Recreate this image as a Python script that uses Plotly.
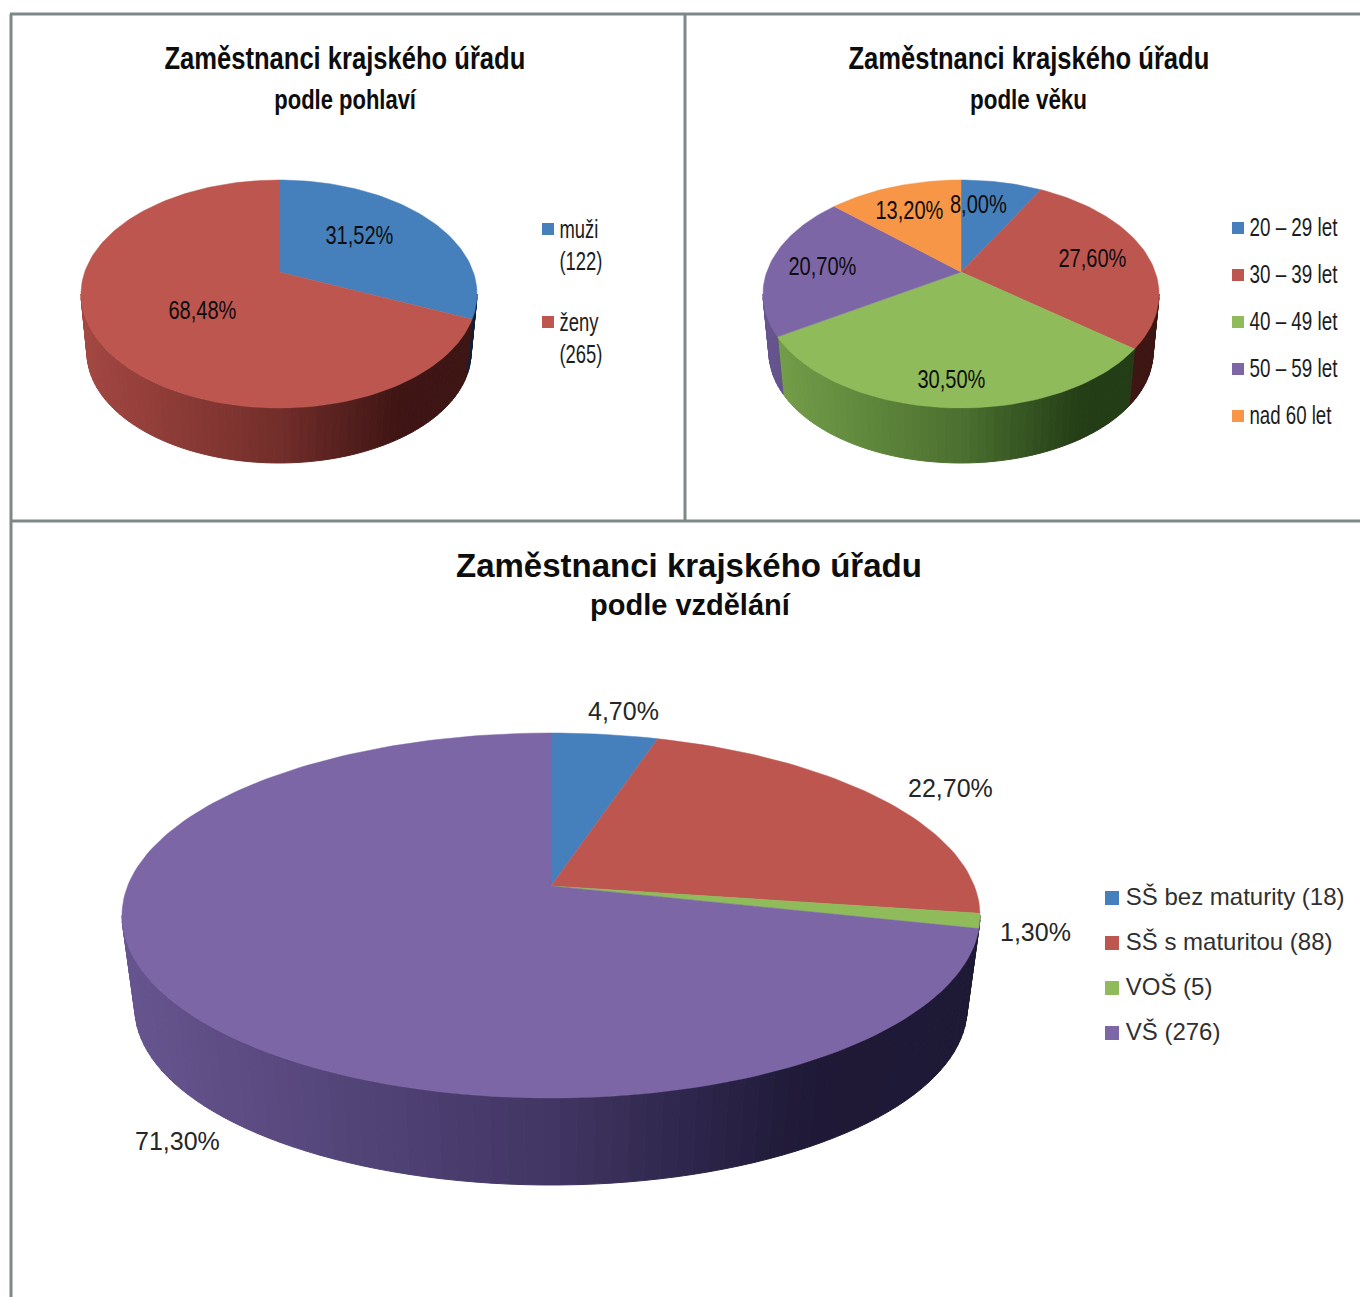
import json
import math
import plotly.graph_objects as go

# ---------- data ----------
gender_labels = ["muži<br>(122)", "ženy<br>(265)"]
gender_values = [31.52, 68.48]
age_labels = ["20 – 29 let", "30 – 39 let", "40 – 49 let", "50 – 59 let", "nad 60 let"]
age_values = [8.00, 27.60, 30.50, 20.70, 13.20]
edu_labels = ["SŠ bez maturity (18)", "SŠ s maturitou (88)", "VOŠ (5)", "VŠ (276)"]
edu_values = [4.70, 22.70, 1.30, 71.30]
title_main = "Zaměstnanci krajského úřadu"
subtitles = ["podle pohlaví", "podle věku", "podle vzdělání"]
colors = ["#4680BC", "#BE5650", "#8FBB5A", "#7C66A6", "#F79646"]

W, H = 1360, 1297
FONT = "Liberation Sans"


def rgb(c):
    return [int(c[i:i + 2], 16) for i in (1, 3, 5)]


def shade(c, t):
    # side wall darkens from left (t=0) to right (t=1)
    stops = [(0, .86), (.5, .60), (.8, .33), (1, .32)]
    f = stops[-1][1]
    for (a, fa), (b, fb) in zip(stops, stops[1:]):
        if t <= b:
            f = fa + (fb - fa) * (t - a) / (b - a)
            break
    base = rgb(c)
    top = max(base)
    r = [round(v * (f if v == top else f ** 1.25)) for v in base]
    return f"rgb({r[0]},{r[1]},{r[2]})"


def add_pie(fig, idx, values, apex, rx, top, bottom, floor, s=.97):
    """Perspective disc: clockwise angle from 12 o'clock -> projected point."""
    cx, cy = apex
    k = (bottom / top - 1) / (bottom / top + 1)
    b = top * (1 + k)
    a = rx * math.sqrt(1 - k * k)
    dy = floor - s * bottom
    xa, ya = f"x{idx}", f"y{idx}"

    def P(deg):
        p = math.radians(deg)
        d = 1 + k * math.cos(p)
        return a * math.sin(p) / d, b * math.cos(p) / d

    def Q(deg):
        x, y = P(deg)
        return s * x, s * y - dy

    m = rx * 1.1
    yt, yb = top * 1.1, floor * 1.1
    fig.update_layout({
        f"xaxis{idx}": dict(domain=[(cx - m) / W, (cx + m) / W], range=[-m, m], visible=False, fixedrange=True),
        f"yaxis{idx}": dict(domain=[1 - (cy + yb) / H, 1 - (cy - yt) / H], range=[-yb, yt], visible=False, fixedrange=True),
    })

    total = sum(values)
    edges = [0]
    for v in values:
        edges.append(edges[-1] + 360 * v / total)
    lo = math.degrees(math.acos(-k))
    hi = 360 - lo
    # side wall: strips clipped to each slice
    for i, v in enumerate(values):
        a0, a1 = max(edges[i], lo), min(edges[i + 1], hi)
        if a1 <= a0:
            continue
        n = max(1, math.ceil((a1 - a0) / 2.0))
        for j in range(n):
            d0 = a0 + (a1 - a0) * j / n
            d1 = a0 + (a1 - a0) * (j + 1) / n
            top0, top1, bot0, bot1 = P(d0), P(d1), Q(d0), Q(d1)
            t = ((top0[0] + top1[0]) / 2 + rx) / (2 * rx)
            col = shade(colors[i], t)
            xs = [top0[0], top1[0], bot1[0], bot0[0], top0[0]]
            ys = [top0[1], top1[1], bot1[1], bot0[1], top0[1]]
            fig.add_trace(go.Scatter(x=xs, y=ys, xaxis=xa, yaxis=ya, mode="lines", fill="toself",
                                     fillcolor=col, line=dict(color=col, width=1),
                                     hoverinfo="skip", showlegend=False))
    # top face
    for i, v in enumerate(values):
        n = max(2, math.ceil((edges[i + 1] - edges[i]) / 1.5))
        pts = [P(edges[i] + (edges[i + 1] - edges[i]) * j / n) for j in range(n + 1)]
        xs = [0] + [p[0] for p in pts] + [0]
        ys = [0] + [p[1] for p in pts] + [0]
        fig.add_trace(go.Scatter(x=xs, y=ys, xaxis=xa, yaxis=ya, mode="lines", fill="toself",
                                 fillcolor=colors[i], line=dict(color=colors[i], width=0.5),
                                 hoverinfo="skip", showlegend=False))


fig = go.Figure()
add_pie(fig, 1, gender_values, (279, 272), 198, 92, 136, 191)
add_pie(fig, 2, age_values, (961, 272), 198, 92, 136, 191)
add_pie(fig, 3, edu_values, (551, 886), 429, 153, 212, 299)

# overlay axes in page pixels, for the legends and texts
fig.update_layout(
    xaxis4=dict(domain=[0, 1], range=[0, W], visible=False, fixedrange=True),
    yaxis4=dict(domain=[0, 1], range=[H, 0], visible=False, fixedrange=True),
)


def legend(labels, x, marker_ys, text_ys, size, textcolor, msize):
    fig.add_trace(go.Scatter(
        x=[x] * len(labels), y=marker_ys, xaxis="x4", yaxis="y4", mode="markers",
        marker=dict(symbol="square", size=msize, color=colors[:len(labels)]),
        hoverinfo="skip", showlegend=False))
    fig.add_trace(go.Scatter(
        x=[x] * len(labels), y=text_ys, xaxis="x4", yaxis="y4", mode="markers+text",
        marker=dict(symbol="square", size=msize, opacity=0),
        text=labels, textposition="middle right",
        textfont=dict(family=FONT, size=size, color=textcolor),
        hoverinfo="skip", showlegend=False))


legend(gender_labels, 548, [229, 322], [248, 341], 25, "#1c1c1c", 12)
legend(age_labels, 1238, [228, 275, 322, 369, 416], [230, 277, 324, 371, 418], 25, "#1c1c1c", 12)
legend(edu_labels, 1112, [898, 943, 988, 1033], [899, 944, 989, 1034], 24, "#303030", 14)


def pct(v):
    return f"{v:.2f}".replace(".", ",") + "%"


notes = []


def text(x, y, s, size, bold=False, color="#0d0d0d"):
    notes.append(dict(x=x, y=y, xref="x4", yref="y4", text=f"<b>{s}</b>" if bold else s, showarrow=False,
                      xanchor="center", yanchor="middle",
                      font=dict(family=FONT, size=size, color=color)))


text(345, 58, title_main, 32, True)
text(346, 100, subtitles[0], 27, True)
text(1029, 58, title_main, 32, True)
text(1028, 100, subtitles[1], 27, True)
text(689, 565, title_main, 33, True)
text(690, 605, subtitles[2], 29, True)

for pos, v in zip([(359, 235), (202, 310)], gender_values):
    text(*pos, pct(v), 25)
for pos, v in zip([(978, 204), (1092, 258), (951, 379), (822, 266), (909, 210)], age_values):
    text(*pos, pct(v), 25)
for pos, v in zip([(623, 711), (950, 788), (1035, 932), (177, 1141)], edu_values):
    text(*pos, pct(v), 25, color="#262626")

frame = "#7f8888"
shapes = [dict(type="line", xref="x4", yref="y4", x0=x0, y0=y0, x1=x1, y1=y1,
               line=dict(color=frame, width=3))
          for x0, y0, x1, y1 in [(11, 14, 11, 1297), (10, 14, 1360, 14), (10, 521, 1360, 521), (685, 14, 685, 521)]]

fig.update_layout(width=W, height=H, margin=dict(l=0, r=0, t=0, b=0), autosize=False,
                  paper_bgcolor="white", plot_bgcolor="rgba(0,0,0,0)", showlegend=False,
                  annotations=notes, shapes=shapes)

# The two upper charts use a horizontally squeezed Arial-like face: no narrow font is installed,
# so the real text is condensed to the measured widths once drawn.
target_widths = {
    title_main: 361, subtitles[0]: 143, subtitles[1]: 117,
    "muži(122)": 43, "ženy(265)": 43,
    "20 – 29 let": 88, "30 – 39 let": 88, "40 – 49 let": 88, "50 – 59 let": 88, "nad 60 let": 82,
}
post = """
document.documentElement.style.margin = '0';
document.body.style.margin = '0';
document.body.style.overflow = 'hidden';
(function () {
  var gd = document.getElementById('{plot_id}');
  var widths = %s;
  function squeeze() {
    gd.querySelectorAll('text').forEach(function (el) {
      if (el.getAttribute('data-squeezed')) return;
      var pt = el.closest('.textpoint');
      var r = el.getBoundingClientRect();
      if (r.width === 0) return;
      var box = el.getBBox();
      var old = el.getAttribute('transform') || '';
      var top = r.top < 515;
      var s = 1, org = box.x + box.width / 2, dx = 0;
      if (pt) { org = box.x; dx = top ? 3 : 4; }
      if (top) {
        var t = el.textContent, w = widths[t];
        if (t.slice(-1) === '%%') w = t.length === 6 ? 68 : 57;
        if (w) s = w / box.width;
      }
      el.setAttribute('transform', old + ' translate(' + (org + dx) + ',0) scale(' + s + ',1) translate(' + (-org) + ',0)');
      el.setAttribute('data-squeezed', '1');
    });
  }
  squeeze();
  gd.on('plotly_afterplot', squeeze);
  setTimeout(squeeze, 0);
})();
""" % json.dumps(target_widths, ensure_ascii=False)

fig.write_html("out.html", config=dict(displayModeBar=False), post_script=post)
